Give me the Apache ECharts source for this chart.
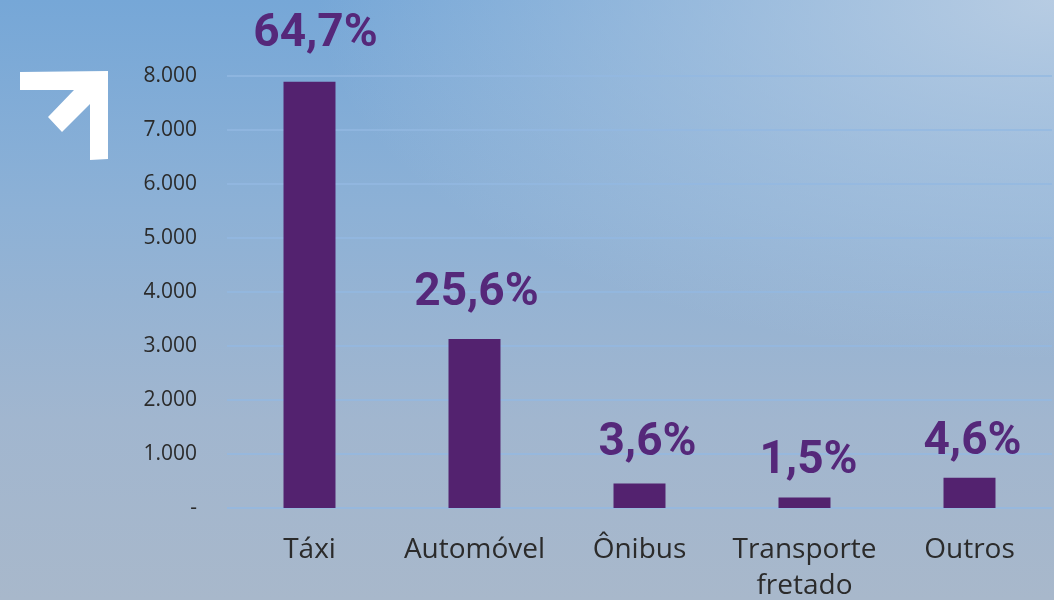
<!DOCTYPE html>
<html>
<head>
<meta charset="utf-8">
<script src="https://cdn.jsdelivr.net/npm/echarts@6/dist/echarts.min.js"></script>
<style>
  html, body { margin: 0; padding: 0; }
  #chart {
    width: 1054px; height: 600px;
    background:
      radial-gradient(ellipse 70% 60% at 100% 0%, rgba(190,208,228,0.9), rgba(190,208,228,0) 100%),
      linear-gradient(180deg, #76a7d7 0%, #8db1d6 35%, #a1b6cf 70%, #a8b8cb 100%);
  }
</style>
</head>
<body>
<div id="chart"></div>
<script>
// Trips by mode of transport
const categories = ['Táxi', 'Automóvel', 'Ônibus', 'Transporte\nfretado', 'Outros'];
const trips = [7895, 3128, 455, 195, 562];
const shares = ['64,7%', '25,6%', '3,6%', '1,5%', '4,6%'];
const yTicks = { min: 0, max: 8000, interval: 1000 };

// Placement of each share label above its bar: [gap, horizontal nudge]
const labelGap = [24, 23, 17, 13, 12];
const labelNudge = [6, 2, 8, 4, 3];

const chart = echarts.init(document.getElementById('chart'), null, { renderer: 'canvas' });

chart.setOption({
  backgroundColor: 'transparent',
  animation: false,
  grid: { left: 227, right: 2, top: 76, bottom: 92, outerBoundsMode: 'none', containLabel: false },
  xAxis: {
    type: 'category',
    data: categories,
    axisLine: { show: false },
    axisTick: { show: false },
    axisLabel: {
      interval: 0,
      color: '#2b2b2b',
      fontFamily: 'Open Sans',
      fontSize: 28,
      lineHeight: 36,
      margin: 24
    }
  },
  yAxis: {
    type: 'value',
    min: yTicks.min,
    max: yTicks.max,
    interval: yTicks.interval,
    axisLine: { show: false },
    axisTick: { show: false },
    splitLine: { lineStyle: { color: '#93b9e2', width: 1.5 } },
    axisLabel: {
      color: '#2b2b2b',
      fontFamily: 'Open Sans',
      fontSize: 21,
      margin: 30,
      formatter: v => v === 0 ? '-' : v.toLocaleString('pt-BR')
    }
  },
  series: [{
    type: 'bar',
    data: trips.map((v, i) => ({
      value: v,
      label: { distance: labelGap[i], offset: [labelNudge[i], 0] }
    })),
    barWidth: '31.5%',
    itemStyle: { color: '#53226f' },
    label: {
      show: true,
      position: 'top',
      formatter: p => shares[p.dataIndex],
      color: '#55287a',
      fontFamily: 'Roboto',
      fontWeight: 'bold',
      fontSize: 46
    }
  }],
  graphic: [{
    type: 'polygon',
    shape: {
      points: [[20, 72], [108, 71], [108, 159], [90, 160], [90, 104], [62, 132], [48, 117], [74, 90], [20, 90]]
    },
    style: { fill: '#ffffff' }
  }]
});
</script>
</body>
</html>
